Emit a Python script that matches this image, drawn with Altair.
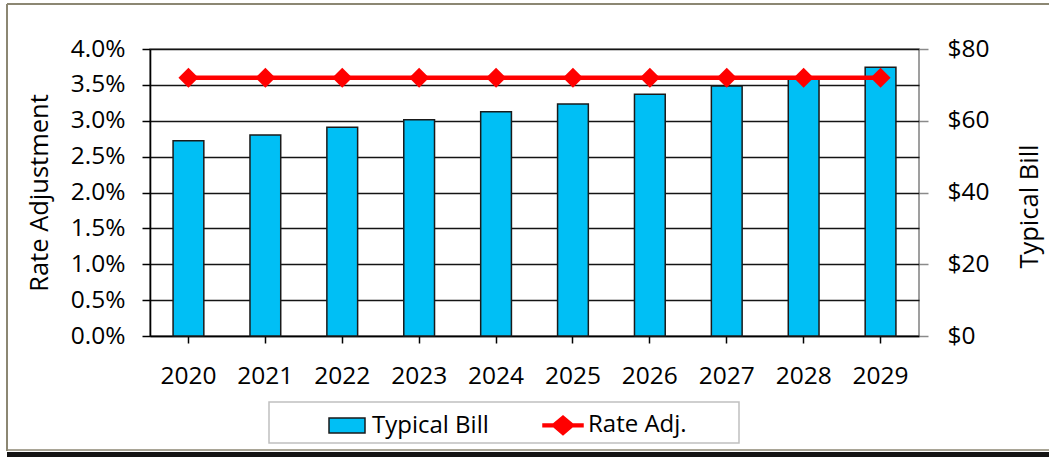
import altair as alt
import pandas as pd

# ---------------- data ----------------
years = ["2020", "2021", "2022", "2023", "2024", "2025", "2026", "2027", "2028", "2029"]
typical_bill = [54.4, 56.0, 58.2, 60.3, 62.5, 64.7, 67.4, 69.7, 72.0, 74.9]
rate_adj = [0.036, 0.036, 0.036, 0.036, 0.036, 0.036, 0.036, 0.036, 0.036, 0.036]
series_names = ["Typical Bill", "Rate Adj."]
rate_ticks = [0.0, 0.005, 0.01, 0.015, 0.02, 0.025, 0.03, 0.035, 0.04]
bill_ticks = [0, 20, 40, 60, 80]

bill_df = pd.DataFrame({"year": years, "bill": typical_bill})
rate_df = pd.DataFrame({"year": years, "rate": rate_adj, "series": ["Rate Adj."] * len(years)})
dummy = pd.DataFrame({"k": [0]})

# ---------------- style ----------------
FONT = "Open Sans"
BLUE = "#00BFF5"
RED = "#FF0000"
W, H = 769, 287
LEFT, TOP = 150, 49

x_enc = alt.X(
    "year:N",
    sort=years,
    title=None,
    scale=alt.Scale(paddingInner=0.6, paddingOuter=0.3),
    axis=alt.Axis(
        labelAngle=0, labelFontSize=24.5, labelColor="#000", labelPadding=21,
        tickColor="#000", tickSize=7, tickWidth=1.5,
        domainColor="#000", domainWidth=1.5, grid=False,
    ),
)

rate_y = alt.Y(
    "rate:Q",
    scale=alt.Scale(domain=[0, 0.04], nice=False, zero=True),
    axis=alt.Axis(
        orient="left", values=rate_ticks, format=".1%", title="Rate Adjustment",
        grid=True, gridColor="#141414", gridWidth=1.6,
        domainColor="#000", domainWidth=1.6,
        tickColor="#000", tickSize=8, tickWidth=1.5,
        labelPadding=17, labelFontSize=24.5, labelColor="#000",
        titleFontSize=25.5, titleColor="#000", titleFontWeight="normal",
        titleAngle=270, titleX=-103, titleY=143.5,
        titleAlign="center", titleBaseline="alphabetic",
    ),
)

bill_y = alt.Y(
    "bill:Q",
    scale=alt.Scale(domain=[0, 80], nice=False, zero=True),
    axis=alt.Axis(
        orient="right", values=bill_ticks, format="$.0f", title="Typical Bill",
        grid=False, domain=False,
        tickColor="#8a8a8a", tickSize=9, tickWidth=1.5,
        labelPadding=19, labelFontSize=24.5, labelColor="#000",
        titleFontSize=25.5, titleColor="#000", titleFontWeight="normal",
        titleAngle=270, titleX=118, titleY=157,
        titleAlign="center", titleBaseline="alphabetic",
    ),
)

bars = alt.Chart(bill_df).mark_bar(fill=BLUE, stroke="#1a1a1a", strokeWidth=1.5).encode(
    x=x_enc, y=bill_y
)

line = alt.Chart(rate_df).mark_line(color=RED, strokeWidth=4.5).encode(x=x_enc, y=rate_y)
pts = alt.Chart(rate_df).mark_point(
    shape="diamond", filled=True, fill=RED, size=400, opacity=1, strokeWidth=0
).encode(x=x_enc, y=rate_y)

rect_path = "M-0.9,-0.38H0.9V0.38H-0.9Z"
line_path = "M-1,-0.07H-0.47L0,-0.47L0.47,-0.07H1V0.07H0.47L0,0.47L-0.47,0.07H-1Z"

leg = alt.Legend(
    title=None, orient="none", legendX=176, legendY=355, direction="horizontal",
    symbolSize=1600, symbolStrokeWidth=1.5, symbolOpacity=1,
    labelFont=FONT, labelFontSize=24, labelColor="#000", labelOffset=4,
    columnPadding=51, padding=0, labelLimit=300,
)

legend_pts = alt.Chart(rate_df).mark_point(filled=True, opacity=0).encode(
    x=x_enc,
    y=rate_y,
    fill=alt.Fill("series:N", scale=alt.Scale(domain=series_names, range=[BLUE, RED]), legend=leg),
    stroke=alt.Stroke("series:N", scale=alt.Scale(domain=series_names, range=["#1a1a1a", RED]), legend=leg),
    shape=alt.Shape("series:N", scale=alt.Scale(domain=series_names, range=[rect_path, line_path]), legend=leg),
)

rate_layer = alt.layer(line, pts, legend_pts)

# ---------------- decorative frame & legend box ----------------
FRAME = "#8c8773"
frame_top = alt.Chart(dummy).mark_rule(color=FRAME, strokeWidth=2).encode(
    x=alt.value(7 - LEFT), x2=alt.value(1049 - LEFT), y=alt.value(4 - TOP)
)
frame_left = alt.Chart(dummy).mark_rule(color=FRAME, strokeWidth=2).encode(
    x=alt.value(7 - LEFT), y=alt.value(4 - TOP), y2=alt.value(451 - TOP)
)
frame_bottom_light = alt.Chart(dummy).mark_rule(color=FRAME, strokeWidth=1.5).encode(
    x=alt.value(7 - LEFT), x2=alt.value(1049 - LEFT), y=alt.value(450 - TOP)
)
frame_bottom = alt.Chart(dummy).mark_rule(color="#141414", strokeWidth=5).encode(
    x=alt.value(7 - LEFT), x2=alt.value(1049 - LEFT), y=alt.value(454.5 - TOP)
)
legend_box = alt.Chart(dummy).mark_rect(fill="white", stroke="#c0c0c0", strokeWidth=1.5).encode(
    x=alt.value(269 - LEFT), x2=alt.value(739 - LEFT), y=alt.value(402 - TOP), y2=alt.value(443 - TOP)
)
decor = alt.layer(frame_top, frame_left, frame_bottom_light, frame_bottom, legend_box)

chart = (
    alt.layer(bars, rate_layer, decor)
    .resolve_scale(y="independent")
    .properties(
        width=W,
        height=H,
        autosize=alt.AutoSizeParams(type="none"),
        padding={"left": LEFT, "top": TOP, "right": 1049 - LEFT - W, "bottom": 457 - TOP - H},
        background="white",
    )
    .configure_view(stroke="#808080", strokeWidth=1.5)
    .configure_axis(labelFont=FONT, titleFont=FONT)
    .configure_legend(labelFont=FONT)
)

chart.save("out.html", embed_options={"renderer": "svg", "actions": False})
